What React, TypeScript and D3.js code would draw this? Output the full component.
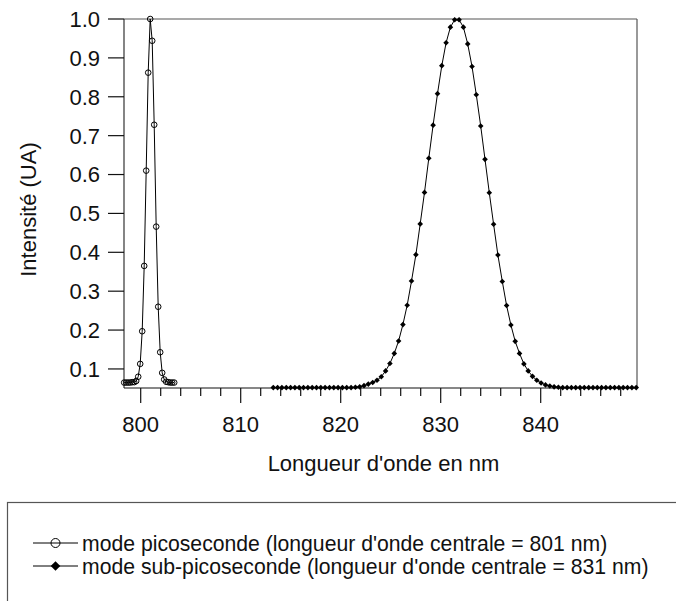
import React from "react";
import * as d3 from "d3";

const picoWavelengths = [798.35, 798.55, 798.75, 798.95, 799.15, 799.35, 799.55, 799.75, 799.95, 800.15, 800.35, 800.55, 800.75, 800.95, 801.15, 801.35, 801.55, 801.75, 801.95, 802.15, 802.35, 802.55, 802.75, 802.95, 803.15, 803.35];
const picoValues = [0.065, 0.065, 0.065, 0.065, 0.066, 0.066, 0.069, 0.080, 0.113, 0.197, 0.365, 0.610, 0.862, 1.0, 0.944, 0.728, 0.466, 0.260, 0.143, 0.090, 0.073, 0.067, 0.066, 0.065, 0.065, 0.065];

const subWavelengths = [813.26, 813.69, 814.12, 814.56, 814.99, 815.42, 815.85, 816.28, 816.72, 817.15, 817.58, 818.01, 818.44, 818.88, 819.31, 819.74, 820.17, 820.6, 821.04, 821.47, 821.9, 822.33, 822.76, 823.2, 823.63, 824.06, 824.49, 824.92, 825.36, 825.79, 826.22, 826.65, 827.08, 827.52, 827.95, 828.38, 828.81, 829.24, 829.68, 830.11, 830.54, 830.97, 831.4, 831.84, 832.27, 832.7, 833.13, 833.56, 834.0, 834.43, 834.86, 835.29, 835.72, 836.16, 836.59, 837.02, 837.45, 837.88, 838.32, 838.75, 839.18, 839.61, 840.04, 840.48, 840.91, 841.34, 841.77, 842.2, 842.64, 843.07, 843.5, 843.93, 844.36, 844.8, 845.23, 845.66, 846.09, 846.52, 846.96, 847.39, 847.82, 848.25, 848.68, 849.12, 849.55];
const subValues = [0.052, 0.052, 0.052, 0.052, 0.052, 0.052, 0.052, 0.052, 0.052, 0.052, 0.052, 0.052, 0.052, 0.052, 0.052, 0.052, 0.052, 0.052, 0.052, 0.053, 0.054, 0.057, 0.061, 0.065, 0.071, 0.080, 0.095, 0.114, 0.140, 0.172, 0.214, 0.264, 0.326, 0.394, 0.473, 0.554, 0.642, 0.727, 0.808, 0.880, 0.939, 0.979, 0.998, 0.998, 0.979, 0.936, 0.878, 0.805, 0.725, 0.639, 0.553, 0.472, 0.393, 0.325, 0.263, 0.213, 0.171, 0.140, 0.113, 0.095, 0.081, 0.071, 0.064, 0.059, 0.056, 0.054, 0.053, 0.052, 0.052, 0.052, 0.052, 0.052, 0.052, 0.052, 0.052, 0.052, 0.052, 0.052, 0.052, 0.052, 0.052, 0.052, 0.052, 0.052, 0.052];

const xMajorTicks = [800, 810, 820, 830, 840];
const xMajorLabels = ["800", "810", "820", "830", "840"];
const xMinorTicks = [802, 804, 806, 808, 812, 814, 816, 818, 822, 824, 826, 828, 832, 834, 836, 838, 842, 844, 846, 848];
const yTicks = [0.1, 0.2, 0.3, 0.4, 0.5, 0.6, 0.7, 0.8, 0.9, 1.0];
const yTickLabels = ["0.1", "0.2", "0.3", "0.4", "0.5", "0.6", "0.7", "0.8", "0.9", "1.0"];

const xTitle = "Longueur d'onde en nm";
const yTitle = "Intensité (UA)";
const legendLabels = [
  "mode picoseconde (longueur d'onde centrale = 801 nm)",
  "mode sub-picoseconde (longueur d'onde centrale = 831 nm)",
];

const FONT = "'Liberation Sans', Arial, sans-serif";

export default function App() {
  const W = 676, H = 601;
  const left = 124, right = 637, top = 19, bottom = 388;
  const x = d3.scaleLinear().domain([798.33, 849.63]).range([left, right]);
  const y = d3.scaleLinear().domain([0.051, 1.0]).range([bottom, top]);

  const pico = picoWavelengths.map((w, i) => [w, picoValues[i]] as [number, number]);
  const sub = subWavelengths.map((w, i) => [w, subValues[i]] as [number, number]);
  const line = d3.line<[number, number]>().x((d) => x(d[0])).y((d) => y(d[1]));

  const diamond = (cx: number, cy: number, r: number) =>
    `M${cx},${cy - r}L${cx + r},${cy}L${cx},${cy + r}L${cx - r},${cy}Z`;

  return (
    <svg width={W} height={H} style={{ position: "absolute", left: 0, top: 0, display: "block", background: "#fff" }} fontFamily={FONT}>
      <rect x={0} y={0} width={W} height={H} fill="#fff" />
      {/* frame */}
      <line x1={left} x2={right} y1={top} y2={top} stroke="#555" strokeWidth={1.2} />
      <line x1={right} x2={right} y1={top} y2={bottom} stroke="#555" strokeWidth={1.2} />
      <line x1={left} x2={left} y1={top} y2={bottom} stroke="#333" strokeWidth={1.2} />
      <line x1={left} x2={right} y1={bottom} y2={bottom} stroke="#111" strokeWidth={1.2} />

      {/* y ticks */}
      {yTicks.map((t, i) => (
        <g key={"y" + i}>
          <line x1={left - 16} x2={left} y1={y(t)} y2={y(t)} stroke="#111" strokeWidth={1.2} />
          <text x={100} y={y(t)} dy="0.36em" textAnchor="end" fontSize={22} fill="#111">{yTickLabels[i]}</text>
        </g>
      ))}
      {/* x ticks */}
      {xMajorTicks.map((t, i) => (
        <g key={"xm" + i}>
          <line x1={x(t)} x2={x(t)} y1={bottom} y2={bottom + 15} stroke="#111" strokeWidth={1.2} />
          <text x={x(t)} y={432} textAnchor="middle" fontSize={22} fill="#111">{xMajorLabels[i]}</text>
        </g>
      ))}
      {xMinorTicks.map((t, i) => (
        <line key={"xn" + i} x1={x(t)} x2={x(t)} y1={bottom} y2={bottom + 8} stroke="#111" strokeWidth={1.2} />
      ))}

      {/* titles */}
      <text x={(left + right) / 2 + 3} y={471} textAnchor="middle" fontSize={22} fill="#111">{xTitle}</text>
      <text transform={`translate(36,${(top + bottom) / 2 + 6}) rotate(-90)`} textAnchor="middle" fontSize={22} fill="#111">{yTitle}</text>

      {/* series */}
      <path d={line(pico) || ""} fill="none" stroke="#000" strokeWidth={1} />
      {pico.map((d, i) => (
        <circle key={"p" + i} cx={x(d[0])} cy={y(d[1])} r={2.8} fill="none" stroke="#000" strokeWidth={1} />
      ))}
      <path d={line(sub) || ""} fill="none" stroke="#000" strokeWidth={1} />
      {sub.map((d, i) => (
        <path key={"s" + i} d={diamond(x(d[0]), y(d[1]), 2.8)} fill="#000" />
      ))}

      {/* legend */}
      <rect x={7.5} y={502.5} width={W} height={H} fill="none" stroke="#555" strokeWidth={1.2} />
      <line x1={33} x2={78} y1={543} y2={543} stroke="#000" strokeWidth={1} />
      <circle cx={55.5} cy={543} r={4.5} fill="none" stroke="#000" strokeWidth={1} />
      <text x={82} y={543} dy="0.36em" fontSize={21.2} fill="#111">{legendLabels[0]}</text>
      <line x1={33} x2={78} y1={566} y2={566} stroke="#000" strokeWidth={1} />
      <path d={diamond(55.5, 566, 4.8)} fill="#000" />
      <text x={82} y={566} dy="0.36em" fontSize={21.2} fill="#111">{legendLabels[1]}</text>
    </svg>
  );
}
